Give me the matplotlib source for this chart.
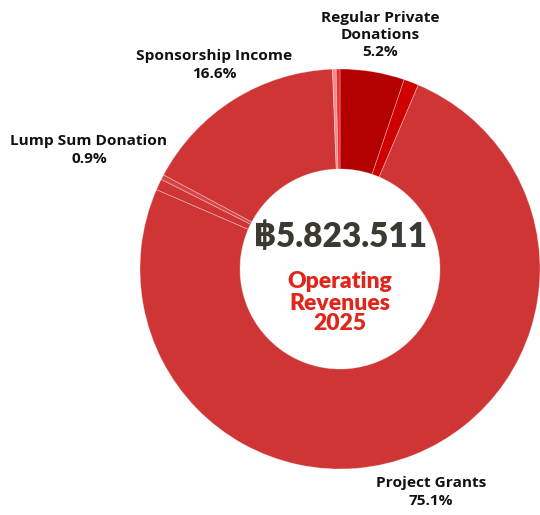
import matplotlib
matplotlib.use("Agg")
import matplotlib.pyplot as plt

categories = ["Regular Private Donations", "Other A", "Project Grants", "Lump Sum Donation",
              "Other B", "Sponsorship Income", "Other C", "Other D"]
values = [5.2, 1.2, 75.1, 0.9, 0.4, 16.6, 0.3, 0.3]
colors = ["#b40000", "#cf0000", "#cf3535", "#cf3535", "#d44545", "#cf3535", "#f28b8b", "#ee2a2a"]
total_text = "฿5.823.511"
center_lines = ["Operating", "Revenues", "2025"]

labels = [
    ("Regular Private\nDonations\n5.2%", 380, 35),
    ("Sponsorship Income\n16.6%", 214, 65),
    ("Lump Sum Donation\n0.9%", 89, 150),
    ("Project Grants\n75.1%", 431, 492),
]

W, H = 540, 515
fig = plt.figure(figsize=(5.4, 5.15), dpi=100)
ax = fig.add_axes([0, 0, 1, 1])

cx, cy, R = 340, H - 269, 200
ax.pie(values, colors=colors, startangle=90, counterclock=False,
       center=(cx, cy), radius=R, frame=True,
       wedgeprops=dict(width=100, edgecolor=(1, 1, 1, 0.35), linewidth=0.6))
ax.set_xlim(0, W)
ax.set_ylim(0, H)
ax.set_aspect("equal")
ax.axis("off")

for txt, x, y in labels:
    ax.text(x, H - y, txt, ha="center", va="center", fontsize=11.1, fontweight="bold",
            family=["Open Sans", "DejaVu Sans"], color="#111111", linespacing=1.3)

ax.text(cx, H - 237, total_text, ha="center", va="center", fontsize=24, fontweight="heavy",
        family=["Lato", "DejaVu Sans"], color="#3b3a30")
for i, line in enumerate(center_lines):
    ax.text(cx, H - (282 + i * 21), line, ha="center", va="center", fontsize=16.5,
            fontweight="heavy", family=["Lato", "DejaVu Sans"], color="#e0261b")

fig.savefig("out.png", dpi=100)
